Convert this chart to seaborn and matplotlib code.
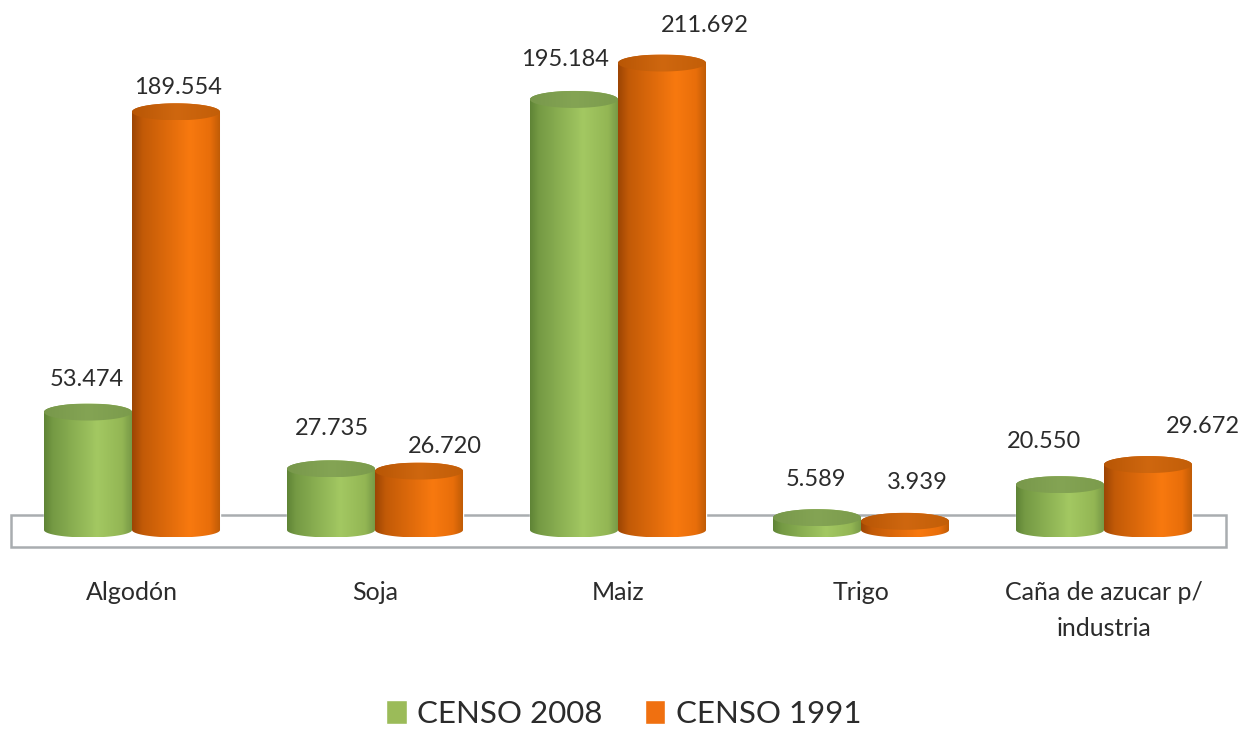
import numpy as np
import pandas as pd
import matplotlib
matplotlib.use("Agg")
import matplotlib.pyplot as plt
import seaborn as sns
from matplotlib.colors import LinearSegmentedColormap
from matplotlib.patches import PathPatch, Rectangle
from matplotlib.path import Path

# values
categories = ["Algodón", "Soja", "Maiz", "Trigo", "Caña de azucar p/\nindustria"]
censo_2008 = [53474, 27735, 195184, 5589, 20550]
censo_1991 = [189554, 26720, 211692, 3939, 29672]

# label offsets from the top of each bar, in pixels
offsets_2008 = [(-1, 33), (1, 40), (-9, 40), (-1, 38), (-16, 43)]
offsets_1991 = [(2, 24), (26, 25), (43, 38), (12, 39), (55, 38)]

W, H = 1254, 729
PX_PER_UNIT = 0.002206
BASE_Y = 530     # pixel row of value 0
TOP_Y = 30
LOW_Y = 560
LEFT, RIGHT = 10.5, 1225.5
RY = 8.5 / PX_PER_UNIT
RY_LOW = 7.5 / PX_PER_UNIT

sns.set_theme(style="white")
plt.rcParams["font.family"] = ["Lato", "DejaVu Sans"]
TEXT = "#2b2b2b"

df = pd.DataFrame({
    "cat": categories * 2,
    "valor": censo_2008 + censo_1991,
    "censo": ["CENSO 2008"] * 5 + ["CENSO 1991"] * 5,
})

fig = plt.figure(figsize=(W / 100, H / 100), dpi=100)
ax = fig.add_axes([LEFT / W, 1 - LOW_Y / H, (RIGHT - LEFT) / W, (LOW_Y - TOP_Y) / H])
ax.patch.set_visible(False)

sns.barplot(data=df, x="cat", y="valor", hue="censo", ax=ax, width=0.7243, gap=0,
            palette={"CENSO 2008": "#9bbb59", "CENSO 1991": "#f07010"},
            saturation=1, dodge=True)

ax.set_xlim(-0.5, 4.5)
ax.set_ylim(-(LOW_Y - BASE_Y) / PX_PER_UNIT, (BASE_Y - TOP_Y) / PX_PER_UNIT)
ax.set_xlabel("")
ax.set_ylabel("")
ax.set_yticks([])
ax.tick_params(axis="x", length=0, pad=15)
for lab in ax.get_xticklabels():
    lab.set_fontsize(18)
    lab.set_color(TEXT)
    lab.set_linespacing(1.7)
sns.despine(ax=ax, left=True, bottom=True)

# the grey floor box behind the bars
floor_bottom = (LOW_Y - 547) / (LOW_Y - TOP_Y)
floor_top = (LOW_Y - 515) / (LOW_Y - TOP_Y)
ax.add_patch(Rectangle((0, floor_bottom), 1, floor_top - floor_bottom, transform=ax.transAxes,
                       facecolor="white", edgecolor="#a9adb0", linewidth=1.8, clip_on=False, zorder=0.5))

body_cmaps = {
    0: LinearSegmentedColormap.from_list("g", [(0, "#5f8436"), (0.1, "#759a44"), (0.6, "#a3c862"), (0.88, "#93b654"), (1, "#759645")]),
    1: LinearSegmentedColormap.from_list("o", [(0, "#9c4504"), (0.12, "#c25a07"), (0.65, "#f8790f"), (0.88, "#e86e0a"), (1, "#bc5a06")]),
}
top_cmaps = {
    0: LinearSegmentedColormap.from_list("gt", ["#78984b", "#84a454", "#7b9b4c"]),
    1: LinearSegmentedColormap.from_list("ot", ["#b85605", "#cf670f", "#c25e08"]),
}


def fill_path(verts, cmap, z):
    # horizontal gradient clipped to the cylinder outline
    verts = np.array(verts)
    grad = np.linspace(0, 1, 256).reshape(1, -1)
    im = ax.imshow(grad, cmap=cmap, aspect="auto", interpolation="bilinear", zorder=z,
                   extent=(verts[:, 0].min(), verts[:, 0].max(), verts[:, 1].min(), verts[:, 1].max()))
    clip = PathPatch(Path(np.vstack([verts, verts[:1]])), transform=ax.transData)
    im.set_clip_path(clip)


xlim, ylim = ax.get_xlim(), ax.get_ylim()
t = np.linspace(0, np.pi, 60)
for hue_i, container in enumerate(ax.containers):
    for bar in container:
        x0, w, v = bar.get_x(), bar.get_width(), bar.get_height()
        cx, rx = x0 + w / 2, w / 2
        top_arc = np.column_stack([cx + rx * np.cos(t), v + RY * np.sin(t)])
        low_top = np.column_stack([cx - rx * np.cos(t), v - RY * np.sin(t)])
        low_arc = np.column_stack([cx - rx * np.cos(t), -RY_LOW * np.sin(t)])
        # outline: top half of rim, then down and round the bottom
        fill_path(np.vstack([top_arc, low_arc]), body_cmaps[hue_i], 2 + hue_i)
        fill_path(np.vstack([top_arc, low_top]), top_cmaps[hue_i], 2.5 + hue_i)
        bar.set_facecolor("none")
ax.set_xlim(xlim)
ax.set_ylim(ylim)

# value labels use a dot for thousands
for container, vals, offs in zip(ax.containers, [censo_2008, censo_1991], [offsets_2008, offsets_1991]):
    for bar, v, off in zip(container, vals, offs):
        ax.annotate(f"{v:,}".replace(",", "."), (bar.get_x() + bar.get_width() / 2, v),
                    xytext=(off[0] * 0.72, off[1] * 0.72), textcoords="offset points",
                    ha="center", va="center", fontsize=17, color=TEXT, zorder=6)

old = ax.get_legend()
handles = old.legend_handles
labels = [t_.get_text() for t_ in old.get_texts()]
old.remove()
leg = fig.legend(handles, labels, ncol=2, loc="center", bbox_to_anchor=(623.5 / W, 1 - 714 / H),
                 frameon=False, fontsize=22.5, handlelength=0.67, handleheight=0.8,
                 handletextpad=0.33, columnspacing=1.35, labelcolor=TEXT)
for h, col in zip(leg.legend_handles, ["#9bbb59", "#f07010"]):
    h.set_facecolor(col)

fig.savefig("out.png", dpi=100, facecolor="white")
